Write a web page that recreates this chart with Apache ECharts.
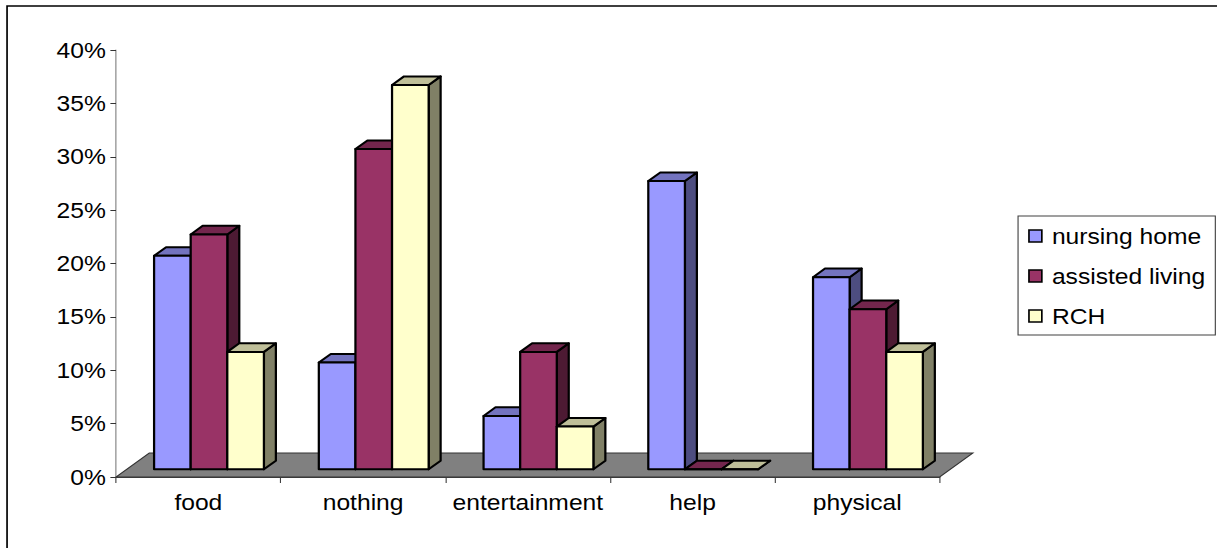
<!DOCTYPE html>
<html>
<head>
<meta charset="utf-8">
<script src="https://cdn.jsdelivr.net/npm/echarts@6/dist/echarts.min.js"></script>
<style>
  html, body { margin: 0; padding: 0; background: #fff; overflow: hidden; }
  /* the drawing is laid out on a narrower canvas and widened to the window */
  #chart { width: 1087px; height: 548px; transform: scaleX(1.1196); transform-origin: 0 0; }
</style>
</head>
<body>
<div id="chart"></div>
<script>
// ---- data ----
const categories = ['food', 'nothing', 'entertainment', 'help', 'physical'];
const seriesNames = ['nursing home', 'assisted living', 'RCH'];
const nursingHome = [20, 10, 5, 27, 18];
const assistedLiving = [22, 30, 11, 0, 15];
const rch = [11, 36, 4, 0, 11];
const valueTicks = { min: 0, max: 40, interval: 5 };

// ---- styling ----
const FONT = "'Liberation Sans', Arial, sans-serif";
const faceColors = [
  { front: '#9999FF', top: '#7373BF', side: '#4D4D80' },
  { front: '#993366', top: '#73264D', side: '#4D1A33' },
  { front: '#FFFFCC', top: '#BFBF99', side: '#808066' }
];
// oblique depth of the floor (x, y) and the slab of it the bars occupy
const FDX = 29.7, FDY = -24;
const D0 = 0.32, D1 = 0.68;

const chart = echarts.init(document.getElementById('chart'), null, { renderer: 'svg' });

function floorItem(params, api) {
  const c = params.coordSys;
  const yb = c.y + c.height;
  return {
    type: 'polygon',
    shape: { points: [[c.x, yb], [c.x + c.width, yb], [c.x + c.width + FDX, yb + FDY], [c.x + FDX, yb + FDY]] },
    style: { fill: '#808080', stroke: '#333', lineWidth: 1 }
  };
}

function barRenderer(sIdx) {
  const col = faceColors[sIdx];
  return function (params, api) {
    const ci = api.value(0), v = api.value(1);
    const base = api.coord([ci, 0]);
    const top = api.coord([ci, v]);
    const cw = api.size([1, 0])[0];
    const bw = cw * 2 / 9;
    const x0 = base[0] - 1.5 * bw + sIdx * bw + D0 * FDX;
    const yb = base[1] + D0 * FDY;
    const yt = top[1] + D0 * FDY;
    const ddx = (D1 - D0) * FDX, ddy = (D1 - D0) * FDY;
    const stroke = { stroke: '#000', lineWidth: 2, lineJoin: 'round' };
    return {
      type: 'group',
      children: [
        { type: 'polygon', shape: { points: [[x0 + bw, yt], [x0 + bw + ddx, yt + ddy], [x0 + bw + ddx, yb + ddy], [x0 + bw, yb]] },
          style: Object.assign({ fill: col.side }, stroke) },
        { type: 'polygon', shape: { points: [[x0, yt], [x0 + ddx, yt + ddy], [x0 + bw + ddx, yt + ddy], [x0 + bw, yt]] },
          style: Object.assign({ fill: col.top }, stroke) },
        { type: 'rect', shape: { x: x0, y: yt, width: bw, height: yb - yt },
          style: Object.assign({ fill: col.front }, stroke) }
      ]
    };
  };
}

const seriesValues = [nursingHome, assistedLiving, rch];

const option = {
  animation: false,
  backgroundColor: '#fff',
  grid: { left: 103.6, right: 247.7, top: 50, bottom: 71 },
  graphic: [{
    type: 'rect',
    shape: { x: 6.3, y: 6, width: 2000, height: 1000 },
    style: { fill: 'none', stroke: '#000', lineWidth: 1.5 },
    silent: true
  }],
  legend: {
    orient: 'vertical',
    left: 909.3,
    top: 216,
    data: seriesNames,
    padding: [7, 9, 6, 9],
    itemGap: 14,
    itemWidth: 11.5,
    itemHeight: 12,
    borderColor: '#404040',
    borderWidth: 1,
    icon: 'rect',
    itemStyle: { borderColor: '#000', borderWidth: 1.5 },
    textStyle: { fontFamily: FONT, fontSize: 22, color: '#000', lineHeight: 26, padding: [0, 0, 0, 4] }
  },
  xAxis: {
    type: 'category',
    data: categories,
    boundaryGap: true,
    axisLine: { lineStyle: { color: '#404040', width: 1 } },
    axisTick: { show: true, length: 6, lineStyle: { color: '#404040' } },
    axisLabel: { fontFamily: FONT, fontSize: 22, color: '#000', margin: 14, interval: 0 },
    splitLine: { show: false }
  },
  yAxis: {
    type: 'value',
    min: valueTicks.min,
    max: valueTicks.max,
    interval: valueTicks.interval,
    axisLine: { show: true, lineStyle: { color: '#808080', width: 1 } },
    axisTick: { show: true, length: 5, lineStyle: { color: '#333' } },
    axisLabel: { fontFamily: FONT, fontSize: 22, color: '#000', margin: 9, formatter: '{value}%' },
    splitLine: { show: false }
  },
  series: [
    { type: 'custom', name: '_floor', silent: true, z: 1, data: [[0, 0]], renderItem: floorItem, encode: { x: 0, y: 1 } }
  ].concat(seriesNames.map((name, s) => ({
    type: 'custom',
    name: name,
    z: 2,
    itemStyle: { color: faceColors[s].front },
    data: categories.map((c, i) => [i, seriesValues[s][i]]),
    encode: { x: 0, y: 1 },
    renderItem: barRenderer(s)
  })))
};

chart.setOption(option);
</script>
</body>
</html>
